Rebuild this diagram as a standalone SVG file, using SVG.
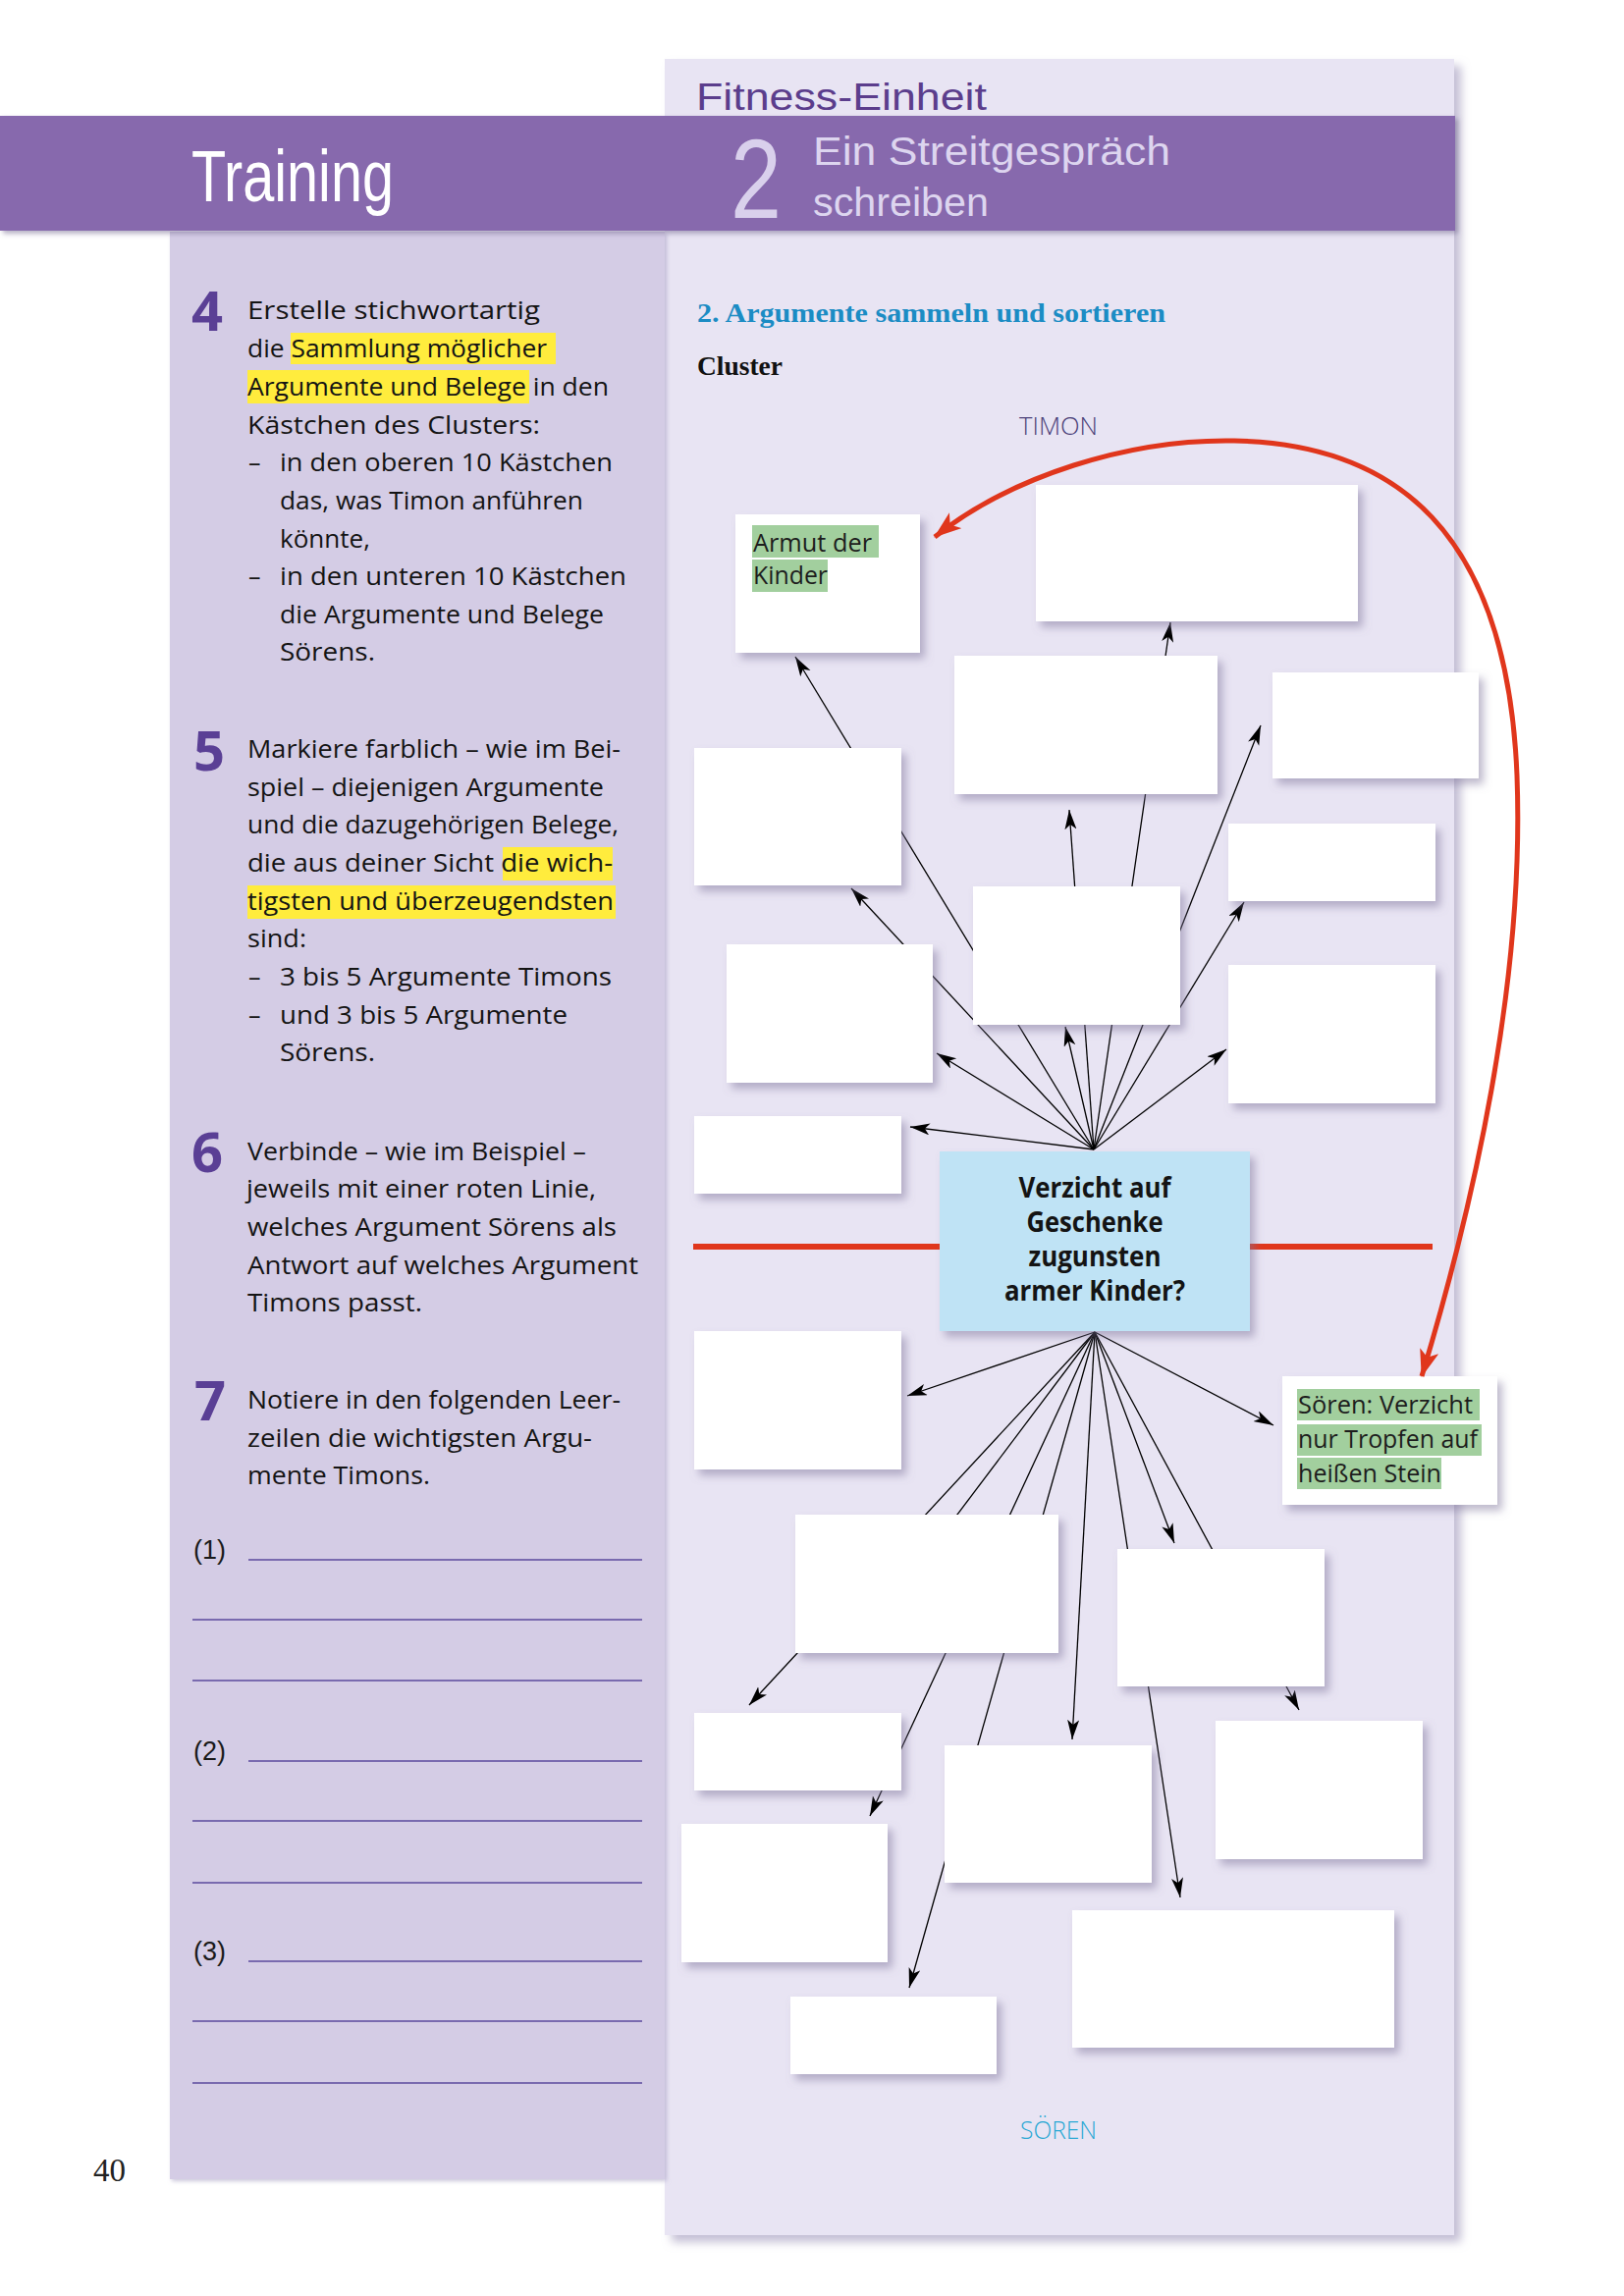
<svg xmlns="http://www.w3.org/2000/svg" width="1654" height="2339" viewBox="0 0 1654 2339">
<style>
.t{font-family:"Open Sans","Noto Sans","Liberation Sans",sans-serif;font-size:25px;fill:#141414}
.num{font-family:"Open Sans","Noto Sans","Liberation Sans",sans-serif;font-size:56px;font-weight:700;fill:#5a3f95}
.par{font-family:"Liberation Sans",sans-serif;font-size:27px;fill:#1a1a1a}
.wl{stroke:#5b4a9c;stroke-width:1.4}
.hy{fill:#ffec3d}
.hg{fill:#a2cf9e}
.box{fill:#ffffff;filter:url(#bsh)}
.lbl{font-family:"Open Sans","Noto Sans","Liberation Sans",sans-serif;font-size:26px;fill:#1d1d1d}
.ctr{font-family:"Open Sans","Noto Sans","Liberation Sans",sans-serif;font-size:28px;font-weight:700;fill:#141414;text-anchor:middle}
.hd{font-family:"Liberation Sans Narrow","Liberation Sans",sans-serif}
.con{stroke:#000;stroke-width:1.3;fill:none}
.arr{marker-end:url(#ah)}
</style>
<defs>
<filter id="bsh" x="-15%" y="-15%" width="140%" height="140%"><feDropShadow dx="5" dy="6" stdDeviation="4" flood-color="#7d7399" flood-opacity="0.5"/></filter>
<filter id="psh" x="-5%" y="-5%" width="112%" height="110%"><feDropShadow dx="7" dy="7" stdDeviation="5" flood-color="#9b92b8" flood-opacity="0.6"/></filter>
<filter id="lsh" x="-5%" y="-5%" width="112%" height="110%"><feDropShadow dx="2" dy="2" stdDeviation="2" flood-color="#a79fc2" flood-opacity="0.6"/></filter>
<filter id="bandsh" x="-5%" y="-20%" width="110%" height="150%"><feDropShadow dx="3" dy="3" stdDeviation="2.5" flood-color="#6c6188" flood-opacity="0.5"/></filter>
<marker id="ah" markerUnits="userSpaceOnUse" markerWidth="22" markerHeight="14" refX="20" refY="6" orient="auto"><path d="M0,0 L20,6 L0,12 L5,6 z" fill="#000"/></marker>
<marker id="rh" markerUnits="userSpaceOnUse" markerWidth="30" markerHeight="22" refX="27" refY="10" orient="auto-start-reverse"><path d="M0,0 L28,10 L0,20 L7,10 z" fill="#e0361c"/></marker>
</defs>
<rect x="0" y="0" width="1654" height="2339" fill="#ffffff"/>

<g id="right-panel">
<rect x="677" y="60" width="804" height="2217" fill="#e8e4f3" filter="url(#psh)"/>
</g>
<g id="left-panel">
<rect x="173" y="236" width="504" height="1984" fill="#d4cce5" filter="url(#lsh)"/>
</g>
<g id="header">
<text class="hd" x="709" y="112" font-size="38" fill="#5b3d8c" textLength="296" lengthAdjust="spacingAndGlyphs">Fitness-Einheit</text>
<rect x="0" y="118" width="1482" height="117" fill="#8769ad" filter="url(#bandsh)"/>
<text class="hd" x="195" y="205" font-size="74" fill="#ffffff" textLength="206" lengthAdjust="spacingAndGlyphs">Training</text>
<text class="hd" x="744" y="222" font-size="115" fill="#d9d0ec" textLength="52" lengthAdjust="spacingAndGlyphs">2</text>
<text class="hd" x="828" y="168" font-size="40" fill="#ddd5ef" textLength="364" lengthAdjust="spacingAndGlyphs">Ein Streitgespräch</text>
<text class="hd" x="828" y="220" font-size="40" fill="#ddd5ef" textLength="179" lengthAdjust="spacingAndGlyphs">schreiben</text>
</g>

<g id="task4">
<rect class="hy" x="296" y="339" width="270" height="32"/>
<rect class="hy" x="252" y="377" width="287" height="34"/>
<text class="num" x="195" y="337">4</text>
<text class="t" x="252" y="325" textLength="298" lengthAdjust="spacingAndGlyphs">Erstelle stichwortartig</text>
<text class="t" x="252" y="364" textLength="305" lengthAdjust="spacingAndGlyphs">die Sammlung möglicher</text>
<text class="t" x="252" y="403" textLength="368" lengthAdjust="spacingAndGlyphs">Argumente und Belege in den</text>
<text class="t" x="252" y="442" textLength="298" lengthAdjust="spacingAndGlyphs">Kästchen des Clusters:</text>
<text class="t" x="253" y="480">–</text>
<text class="t" x="285" y="480" textLength="339" lengthAdjust="spacingAndGlyphs">in den oberen 10 Kästchen</text>
<text class="t" x="285" y="519" textLength="309" lengthAdjust="spacingAndGlyphs">das, was Timon anführen</text>
<text class="t" x="285" y="558" textLength="92" lengthAdjust="spacingAndGlyphs">könnte,</text>
<text class="t" x="253" y="596">–</text>
<text class="t" x="285" y="596" textLength="353" lengthAdjust="spacingAndGlyphs">in den unteren 10 Kästchen</text>
<text class="t" x="285" y="635" textLength="330" lengthAdjust="spacingAndGlyphs">die Argumente und Belege</text>
<text class="t" x="285" y="673" textLength="97" lengthAdjust="spacingAndGlyphs">Sörens.</text>
</g>

<g id="task5">
<rect class="hy" x="512" y="863" width="112" height="34"/>
<rect class="hy" x="252" y="902" width="375" height="34"/>
<text class="num" x="197" y="785">5</text>
<text class="t" x="252" y="772" textLength="380" lengthAdjust="spacingAndGlyphs">Markiere farblich – wie im Bei-</text>
<text class="t" x="252" y="811" textLength="363" lengthAdjust="spacingAndGlyphs">spiel – diejenigen Argumente</text>
<text class="t" x="252" y="849" textLength="378" lengthAdjust="spacingAndGlyphs">und die dazugehörigen Belege,</text>
<text class="t" x="252" y="888" textLength="372" lengthAdjust="spacingAndGlyphs">die aus deiner Sicht die wich-</text>
<text class="t" x="252" y="927" textLength="373" lengthAdjust="spacingAndGlyphs">tigsten und überzeugendsten</text>
<text class="t" x="252" y="965" textLength="60" lengthAdjust="spacingAndGlyphs">sind:</text>
<text class="t" x="253" y="1004">–</text>
<text class="t" x="285" y="1004" textLength="338" lengthAdjust="spacingAndGlyphs">3 bis 5 Argumente Timons</text>
<text class="t" x="253" y="1043">–</text>
<text class="t" x="285" y="1043" textLength="293" lengthAdjust="spacingAndGlyphs">und 3 bis 5 Argumente</text>
<text class="t" x="285" y="1081" textLength="97" lengthAdjust="spacingAndGlyphs">Sörens.</text>
</g>

<g id="task6">
<text class="num" x="195" y="1194">6</text>
<text class="t" x="252" y="1182" textLength="345" lengthAdjust="spacingAndGlyphs">Verbinde – wie im Beispiel –</text>
<text class="t" x="251" y="1220" textLength="356" lengthAdjust="spacingAndGlyphs">jeweils mit einer roten Linie,</text>
<text class="t" x="252" y="1259" textLength="376" lengthAdjust="spacingAndGlyphs">welches Argument Sörens als</text>
<text class="t" x="252" y="1298" textLength="398" lengthAdjust="spacingAndGlyphs">Antwort auf welches Argument</text>
<text class="t" x="252" y="1336" textLength="178" lengthAdjust="spacingAndGlyphs">Timons passt.</text>
</g>

<g id="task7">
<text class="num" x="198" y="1447">7</text>
<text class="t" x="252" y="1435" textLength="380" lengthAdjust="spacingAndGlyphs">Notiere in den folgenden Leer-</text>
<text class="t" x="252" y="1474" textLength="351" lengthAdjust="spacingAndGlyphs">zeilen die wichtigsten Argu-</text>
<text class="t" x="252" y="1512" textLength="186" lengthAdjust="spacingAndGlyphs">mente Timons.</text>
</g>

<g id="write-lines">
<text class="par" x="197" y="1588">(1)</text>
<line class="wl" x1="253" y1="1589" x2="654" y2="1589"/>
<line class="wl" x1="196" y1="1650" x2="654" y2="1650"/>
<line class="wl" x1="196" y1="1712" x2="654" y2="1712"/>
<text class="par" x="197" y="1793">(2)</text>
<line class="wl" x1="253" y1="1794" x2="654" y2="1794"/>
<line class="wl" x1="196" y1="1855" x2="654" y2="1855"/>
<line class="wl" x1="196" y1="1918" x2="654" y2="1918"/>
<text class="par" x="197" y="1997">(3)</text>
<line class="wl" x1="253" y1="1998" x2="654" y2="1998"/>
<line class="wl" x1="196" y1="2059" x2="654" y2="2059"/>
<line class="wl" x1="196" y1="2122" x2="654" y2="2122"/>
</g>

<g id="page-number">
<text x="95" y="2222" font-family="Liberation Serif,serif" font-size="33" fill="#222">40</text>
</g>

<g id="cluster-title">
<text x="710" y="328" font-family="Liberation Serif,serif" font-weight="700" font-size="28" fill="#1b8cc4" textLength="477" lengthAdjust="spacingAndGlyphs">2. Argumente sammeln und sortieren</text>
<text x="710" y="382" font-family="Liberation Serif,serif" font-weight="700" font-size="28" fill="#111" textLength="87" lengthAdjust="spacingAndGlyphs">Cluster</text>
<text x="1038" y="443" font-family="Open Sans,sans-serif" font-weight="300" font-size="25" fill="#4b3f78" textLength="80" lengthAdjust="spacingAndGlyphs">TIMON</text>
<text x="1039" y="2179" font-family="Open Sans,sans-serif" font-weight="300" font-size="26" fill="#2aa8d4" textLength="78" lengthAdjust="spacingAndGlyphs">SÖREN</text>
</g>

<g id="divider">
<line x1="706" y1="1270" x2="1459" y2="1270" stroke="#e0361c" stroke-width="6"/>
</g>

<g id="connectors">
<line class="con arr" x1="1114" y1="1171" x2="927" y2="1148"/>
<line class="con arr" x1="1114" y1="1171" x2="954" y2="1073"/>
<line class="con arr" x1="1114" y1="1171" x2="867" y2="905"/>
<line class="con arr" x1="1114" y1="1171" x2="810" y2="669"/>
<line class="con arr" x1="1114" y1="1171" x2="1085" y2="1046"/>
<line class="con arr" x1="1114" y1="1171" x2="1089" y2="825"/>
<line class="con arr" x1="1114" y1="1171" x2="1192" y2="634"/>
<line class="con arr" x1="1114" y1="1171" x2="1284" y2="739"/>
<line class="con arr" x1="1114" y1="1171" x2="1267" y2="919"/>
<line class="con arr" x1="1114" y1="1171" x2="1249" y2="1069"/>
<line class="con arr" x1="1115" y1="1357" x2="924" y2="1422"/>
<line class="con arr" x1="1115" y1="1357" x2="1297" y2="1452"/>
<line class="con arr" x1="1115" y1="1357" x2="763" y2="1737"/>
<line class="con arr" x1="1115" y1="1357" x2="886" y2="1850"/>
<line class="con arr" x1="1115" y1="1357" x2="926" y2="2025"/>
<line class="con" x1="1115" y1="1357" x2="932" y2="1600"/>
<line class="con arr" x1="1115" y1="1357" x2="1092" y2="1772"/>
<line class="con arr" x1="1115" y1="1357" x2="1196" y2="1572"/>
<line class="con arr" x1="1115" y1="1357" x2="1202" y2="1933"/>
<line class="con arr" x1="1115" y1="1357" x2="1323" y2="1742"/>
</g>

<g id="center">
<rect x="957" y="1173" width="316" height="183" fill="#bfe3f5" filter="url(#bsh)"/>
<text class="ctr" x="1115" y="1220" textLength="155" lengthAdjust="spacingAndGlyphs">Verzicht auf</text>
<text class="ctr" x="1115" y="1255" textLength="139" lengthAdjust="spacingAndGlyphs">Geschenke</text>
<text class="ctr" x="1115" y="1290" textLength="135" lengthAdjust="spacingAndGlyphs">zugunsten</text>
<text class="ctr" x="1115" y="1325" textLength="184" lengthAdjust="spacingAndGlyphs">armer Kinder?</text>
</g>

<g id="timon-1">
<rect class="box" x="749" y="524" width="188" height="141"/>
<rect class="hg" x="766" y="535" width="129" height="33"/>
<rect class="hg" x="766" y="570" width="77" height="33"/>
<text class="lbl" x="767" y="562" textLength="121" lengthAdjust="spacingAndGlyphs">Armut der</text>
<text class="lbl" x="767" y="595" textLength="76" lengthAdjust="spacingAndGlyphs">Kinder</text>
</g>
<g id="timon-2"><rect class="box" x="1055" y="494" width="328" height="139"/></g>
<g id="timon-3"><rect class="box" x="972" y="668" width="268" height="141"/></g>
<g id="timon-4"><rect class="box" x="1296" y="685" width="210" height="108"/></g>
<g id="timon-5"><rect class="box" x="707" y="762" width="211" height="140"/></g>
<g id="timon-6"><rect class="box" x="1251" y="839" width="211" height="79"/></g>
<g id="timon-7"><rect class="box" x="991" y="903" width="211" height="141"/></g>
<g id="timon-8"><rect class="box" x="740" y="962" width="210" height="141"/></g>
<g id="timon-9"><rect class="box" x="1251" y="983" width="211" height="141"/></g>
<g id="timon-10"><rect class="box" x="707" y="1137" width="211" height="79"/></g>

<g id="soeren-1"><rect class="box" x="707" y="1356" width="211" height="141"/></g>
<g id="soeren-2">
<rect class="box" x="1306" y="1402" width="219" height="131"/>
<rect class="hg" x="1321" y="1415" width="186" height="32"/>
<rect class="hg" x="1321" y="1451" width="188" height="32"/>
<rect class="hg" x="1321" y="1485" width="147" height="32"/>
<text class="lbl" x="1322" y="1440" textLength="178" lengthAdjust="spacingAndGlyphs">Sören: Verzicht</text>
<text class="lbl" x="1322" y="1475" textLength="183" lengthAdjust="spacingAndGlyphs">nur Tropfen auf</text>
<text class="lbl" x="1322" y="1510" textLength="146" lengthAdjust="spacingAndGlyphs">heißen Stein</text>
</g>
<g id="soeren-3"><rect class="box" x="810" y="1543" width="268" height="141"/></g>
<g id="soeren-4"><rect class="box" x="1138" y="1578" width="211" height="140"/></g>
<g id="soeren-5"><rect class="box" x="707" y="1745" width="211" height="79"/></g>
<g id="soeren-6"><rect class="box" x="962" y="1778" width="211" height="140"/></g>
<g id="soeren-7"><rect class="box" x="1238" y="1753" width="211" height="141"/></g>
<g id="soeren-8"><rect class="box" x="694" y="1858" width="210" height="141"/></g>
<g id="soeren-9"><rect class="box" x="1092" y="1946" width="328" height="140"/></g>
<g id="soeren-10"><rect class="box" x="805" y="2034" width="210" height="79"/></g>

<g id="red-link">
<path d="M952,547 C1030,485 1150,447 1257,449 C1420,452 1535,540 1545,790 C1553,1000 1500,1230 1448,1402" fill="none" stroke="#e0361c" stroke-width="5" marker-start="url(#rh)" marker-end="url(#rh)"/>
</g>
</svg>
